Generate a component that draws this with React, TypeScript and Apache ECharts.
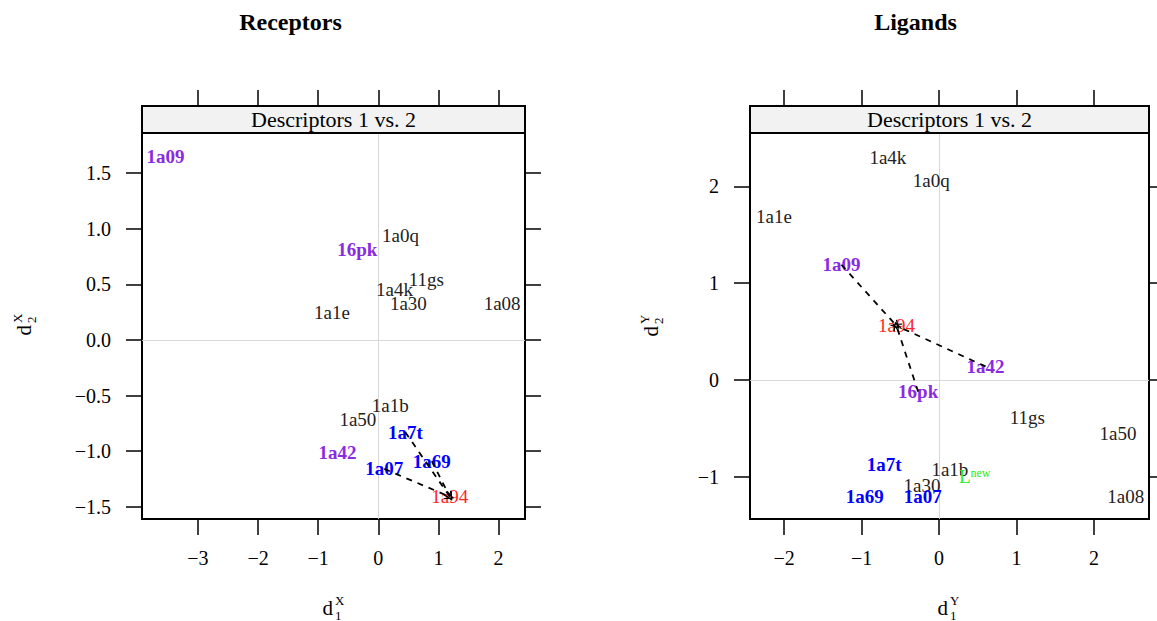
import React, { useEffect, useRef } from "react";
import * as echarts from "echarts";

// ---------- data ----------
const recNames = ["1a09", "1a0q", "16pk", "11gs", "1a4k", "1a30", "1a08", "1a1e", "1a1b", "1a50", "1a7t", "1a42", "1a69", "1a07", "1a94"];
const recX = [-3.54, 0.37, -0.35, 0.8, 0.27, 0.5, 2.06, -0.77, 0.2, -0.34, 0.45, -0.68, 0.89, 0.1, 1.19];
const recY = [1.65, 0.94, 0.81, 0.54, 0.45, 0.33, 0.33, 0.25, -0.59, -0.72, -0.83, -1.01, -1.09, -1.16, -1.41];
const recGroup = ["g1", "other", "g1", "other", "other", "other", "other", "other", "other", "other", "g2", "g1", "g2", "g2", "ref"];

const ligNames = ["1a4k", "1a0q", "1a1e", "1a09", "1a94", "1a42", "16pk", "11gs", "1a50", "1a7t", "1a1b", "Lnew", "1a30", "1a69", "1a07", "1a08"];
const ligX = [-0.66, -0.1, -2.13, -1.26, -0.55, 0.6, -0.27, 1.14, 2.31, -0.71, 0.14, 0.46, -0.22, -0.96, -0.21, 2.41];
const ligY = [2.3, 2.06, 1.69, 1.19, 0.56, 0.14, -0.12, -0.39, -0.55, -0.87, -0.92, -1.0, -1.09, -1.2, -1.2, -1.2];
const ligGroup = ["other", "other", "other", "g1", "ref", "g1", "g1", "other", "other", "g2", "other", "new", "other", "g2", "g2", "other"];

const recArrowFrom = ["1a7t", "1a69", "1a07"];
const recArrowTo = "1a94";
const ligArrowFrom = ["1a09", "1a42", "16pk"];
const ligArrowTo = "1a94";

const recXTicks = [-3, -2, -1, 0, 1, 2];
const recYTicks = [-1.5, -1, -0.5, 0, 0.5, 1, 1.5];
const ligXTicks = [-2, -1, 0, 1, 2];
const ligYTicks = [-1, 0, 1, 2];

const recXRange = [-3.93, 2.44];
const recYRange = [-1.61, 1.86];
const ligXRange = [-2.44, 2.71];
const ligYRange = [-1.435, 2.55];

const panelTitles = ["Receptors", "Ligands"];
const stripText = "Descriptors 1 vs. 2";

// ---------- styles ----------
const FONT = '"Liberation Serif", "Times New Roman", serif';
const GROUP_COLOR: Record<string, string> = {
  g1: "#8a2be2",
  g2: "#0000ff",
  ref: "#ff2626",
  new: "#22ee22",
  other: "#222222",
};
const GROUP_BOLD: Record<string, boolean> = { g1: true, g2: true, ref: false, new: false, other: false };
const CHEVRON = "path://M5,0 L10,10 L8.6,10 L5,2.6 L1.4,10 L0,10 Z";

const minus = (s: string) => s.replace("-", "\u2212");

function buildPoints(names: string[], xs: number[], ys: number[], groups: string[]) {
  return names.map((n, i) => {
    const g = groups[i];
    return {
      name: n,
      value: [xs[i], ys[i]],
      label: { color: GROUP_COLOR[g], fontWeight: GROUP_BOLD[g] ? "bold" : "normal" },
    };
  });
}

function buildArrows(names: string[], xs: number[], ys: number[], from: string[], to: string) {
  const t = names.indexOf(to);
  return from.map((f) => {
    const i = names.indexOf(f);
    return { coords: [[xs[i], ys[i]], [xs[t], ys[t]]] };
  });
}

function xAxis(gridIndex: number, range: number[], ticks: number[], position: string, showLabel: boolean, offset: number) {
  return {
    type: "value",
    gridIndex,
    min: range[0],
    max: range[1],
    position,
    offset,
    axisLine: { show: true, onZero: false, lineStyle: { color: "#000", width: 2 } },
    axisTick: { show: true, inside: false, length: 16, customValues: ticks, lineStyle: { color: "#000", width: 1.5 } },
    axisLabel: {
      show: showLabel,
      customValues: ticks,
      margin: 29,
      fontFamily: FONT,
      fontSize: 20,
      color: "#000",
      formatter: (v: number) => minus(String(v)),
    },
    splitLine: { show: false },
  };
}

function yAxis(gridIndex: number, range: number[], ticks: number[], position: string, showLabel: boolean, decimals: number) {
  return {
    type: "value",
    gridIndex,
    min: range[0],
    max: range[1],
    position,
    axisLine: { show: true, onZero: false, lineStyle: { color: "#000", width: 2 } },
    axisTick: { show: true, inside: false, length: 16, customValues: ticks, lineStyle: { color: "#000", width: 1.5 } },
    axisLabel: {
      show: showLabel,
      customValues: ticks,
      margin: 31,
      fontFamily: FONT,
      fontSize: 20,
      color: "#000",
      formatter: (v: number) => minus(v.toFixed(decimals)),
    },
    splitLine: { show: false },
  };
}

function scatterSeries(xi: number, yi: number, data: any[]) {
  return {
    type: "scatter",
    xAxisIndex: xi,
    yAxisIndex: yi,
    symbolSize: 0,
    silent: true,
    data,
    z: 3,
    itemStyle: { opacity: 1 },
    label: {
      show: true,
      position: "inside",
      opacity: 1,
      fontFamily: FONT,
      fontSize: 19,
      formatter: (p: any) => (p.name === "Lnew" ? "{L|L}{n|new}" : p.name),
      rich: {
        L: { fontFamily: FONT, fontSize: 19, color: GROUP_COLOR.new, verticalAlign: "bottom", lineHeight: 19 },
        n: { fontFamily: FONT, fontSize: 12, color: GROUP_COLOR.new, verticalAlign: "top", lineHeight: 12, padding: [0, 0, 12, 0] },
      },
    },
    markLine: {
      silent: true,
      symbol: "none",
      label: { show: false },
      lineStyle: { color: "#d8d8d8", width: 1, type: "solid", opacity: 1 },
      data: [{ xAxis: 0 }, { yAxis: 0 }],
      z: 1,
    },
  };
}

function arrowSeries(xi: number, yi: number, data: any[]) {
  return {
    type: "lines",
    coordinateSystem: "cartesian2d",
    xAxisIndex: xi,
    yAxisIndex: yi,
    silent: true,
    z: 5,
    symbol: ["none", CHEVRON],
    symbolSize: [9, 9],
    lineStyle: { color: "#000", width: 1.8, type: [6, 6], opacity: 1 },
    data,
  };
}

function txt(x: number, y: number, text: string, size: number, align: string, extra: any = {}) {
  return {
    type: "text",
    x,
    y,
    style: {
      text,
      fontFamily: FONT,
      fontSize: size,
      fill: "#000",
      align,
      verticalAlign: "middle",
      ...extra,
    },
  };
}

function strip(x: number, w: number) {
  return [
    {
      type: "rect",
      shape: { x, y: 106, width: w, height: 27 },
      style: { fill: "#f2f2f2", stroke: "#000", lineWidth: 2 },
      z: 10,
    },
    { ...txt(x + w / 2, 119.5, stripText, 22, "center"), z: 11 },
  ];
}

function hTitle(x: number, sup: string, sub: string) {
  return [txt(x, 608, "d", 21, "right"), txt(x + 2, 600, sup, 13, "left"), txt(x + 2, 615, sub, 13, "left")];
}

function vTitle(x: number, y: number, sup: string, sub: string) {
  return {
    type: "group",
    x,
    y,
    rotation: Math.PI / 2,
    children: [txt(0, 0, "d", 21, "right"), txt(2, -7, sup, 13, "left"), txt(2, 7, sub, 13, "left")],
  };
}

const option: any = {
  animation: false,
  backgroundColor: "#fff",
  textStyle: { fontFamily: FONT },
  grid: [
    { left: 142, top: 133, width: 383, height: 386, show: true, borderColor: "#000", borderWidth: 2, backgroundColor: "transparent" },
    { left: 750, top: 133, width: 399, height: 386, show: true, borderColor: "#000", borderWidth: 2, backgroundColor: "transparent" },
  ],
  xAxis: [
    xAxis(0, recXRange, recXTicks, "bottom", true, 0),
    xAxis(0, recXRange, recXTicks, "top", false, 27),
    xAxis(1, ligXRange, ligXTicks, "bottom", true, 0),
    xAxis(1, ligXRange, ligXTicks, "top", false, 27),
  ],
  yAxis: [
    yAxis(0, recYRange, recYTicks, "left", true, 1),
    yAxis(0, recYRange, recYTicks, "right", false, 1),
    yAxis(1, ligYRange, ligYTicks, "left", true, 0),
    yAxis(1, ligYRange, ligYTicks, "right", false, 0),
  ],
  series: [
    scatterSeries(0, 0, buildPoints(recNames, recX, recY, recGroup)),
    arrowSeries(0, 0, buildArrows(recNames, recX, recY, recArrowFrom, recArrowTo)),
    scatterSeries(2, 2, buildPoints(ligNames, ligX, ligY, ligGroup)),
    arrowSeries(2, 2, buildArrows(ligNames, ligX, ligY, ligArrowFrom, ligArrowTo)),
  ],
  graphic: [
    txt(290.5, 22, panelTitles[0], 24, "center", { fontWeight: "bold" }),
    txt(915.5, 22, panelTitles[1], 24, "center", { fontWeight: "bold" }),
    ...strip(142, 383),
    ...strip(750, 399),
    ...hTitle(333, "X", "1"),
    ...hTitle(948, "Y", "1"),
    vTitle(24, 325, "X", "2"),
    vTitle(651, 326, "Y", "2"),
  ],
};

export default function App() {
  const ref = useRef<HTMLDivElement>(null);
  useEffect(() => {
    const chart = echarts.init(ref.current!, null, { renderer: "svg" });
    chart.setOption(option);
    return () => chart.dispose();
  }, []);
  return (
    <div
      ref={ref}
      style={{ position: "fixed", left: 0, top: 0, width: 1157, height: 621, background: "#fff" }}
    />
  );
}
